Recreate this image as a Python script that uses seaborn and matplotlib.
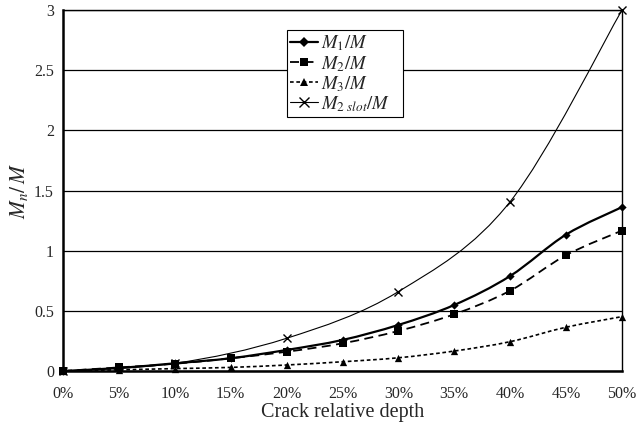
import numpy as np
import matplotlib
matplotlib.use("Agg")
import matplotlib.pyplot as plt
from matplotlib.path import Path
from matplotlib.patches import PathPatch
from matplotlib.lines import Line2D
import seaborn as sns

# Moment ratios versus crack relative depth (%)
depth = [0, 5, 10, 15, 20, 25, 30, 35, 40, 45, 50]
m1 = [0.0, 0.025, 0.064, 0.106, 0.175, 0.258, 0.383, 0.549, 0.790, 1.134, 1.362]
m2 = [0.0, 0.030, 0.060, 0.106, 0.160, 0.230, 0.333, 0.472, 0.668, 0.963, 1.167]
m3 = [0.0, 0.010, 0.020, 0.030, 0.050, 0.077, 0.110, 0.166, 0.244, 0.364, 0.452]
depth_slot = [0, 10, 20, 30, 40, 50]
m2_slot = [0.0, 0.064, 0.272, 0.660, 1.408, 3.0]

x_ticks = [0, 5, 10, 15, 20, 25, 30, 35, 40, 45, 50]
x_tick_labels = ["0%", "5%", "10%", "15%", "20%", "25%", "30%", "35%", "40%", "45%", "50%"]
y_ticks = [0, 0.5, 1, 1.5, 2, 2.5, 3]
y_tick_labels = ["0", "0.5", "1", "1.5", "2", "2.5", "3"]

legend_labels = [r"$M_1/M$", r"$M_2/M$", r"$M_3/M$", r"$M_{2\ slot}/M$"]

sns.set_style("white")
plt.rcParams["font.family"] = ["Liberation Serif", "DejaVu Serif"]
plt.rcParams["mathtext.fontset"] = "stix"

fig = plt.figure(figsize=(6.39, 4.23), dpi=100)
ax = fig.add_axes([0.0986, 0.1229, 0.8748, 0.8534])


def smooth_path(xs, ys):
    """Cubic Bezier path through the points (Catmull-Rom style tangents)."""
    pts = np.column_stack([xs, ys]).astype(float)
    n = len(pts)
    verts = [pts[0]]
    codes = [Path.MOVETO]
    for i in range(n - 1):
        p0 = pts[i - 1] if i > 0 else pts[i]
        p1 = pts[i]
        p2 = pts[i + 1]
        p3 = pts[i + 2] if i + 2 < n else pts[i + 1]
        c1 = p1 + (p2 - p0) / 6.0
        c2 = p2 - (p3 - p1) / 6.0
        verts += [c1, c2, p2]
        codes += [Path.CURVE4] * 3
    return Path(verts, codes)


series = [
    (depth, m1, "D", 4.0, dict(lw=1.6, ls="-")),
    (depth, m2, "s", 5.0, dict(lw=1.3, ls=(0, (5, 3)))),
    (depth, m3, "^", 5.0, dict(lw=1.2, ls=(0, (2.2, 1.6)))),
    (depth_slot, m2_slot, "x", 5.5, dict(lw=0.8, ls="-")),
]

handles = []
for xs, ys, mk, ms, style in series:
    patch = PathPatch(smooth_path(xs, ys), facecolor="none", edgecolor="black",
                      linewidth=style["lw"], linestyle=style["ls"], zorder=3)
    ax.add_patch(patch)
    sns.scatterplot(x=xs, y=ys, marker=mk, s=ms ** 2 * 1.1, color="black",
                    edgecolor="black", linewidth=1.0 if mk == "x" else 0,
                    ax=ax, zorder=4, legend=False, clip_on=False)
    handles.append(Line2D([], [], color="black", lw=style["lw"], ls=style["ls"],
                          marker=mk, markersize=ms + 1, markeredgewidth=1.0 if mk == "x" else 0))

ax.set_xlim(0, 50)
ax.set_ylim(0, 3)
ax.set_xticks(x_ticks)
ax.set_xticklabels(x_tick_labels, fontsize=11.5)
ax.set_yticks(y_ticks)
ax.set_yticklabels(y_tick_labels, fontsize=11.5)
ax.tick_params(axis="y", direction="out", length=4.5, width=0.8, color="black", pad=2)
ax.tick_params(axis="x", direction="out", length=4.5, width=0.8, color="black", pad=6)

ax.yaxis.grid(True, color="black", lw=0.9)
ax.xaxis.grid(False)
ax.set_axisbelow(True)

for side in ["left", "bottom"]:
    ax.spines[side].set_color("black")
    ax.spines[side].set_linewidth(1.8)
ax.spines["right"].set_color("black")
ax.spines["right"].set_linewidth(1.0)
ax.spines["top"].set_color("black")
ax.spines["top"].set_linewidth(1.0)

ax.set_xlabel("Crack relative depth", fontsize=14.5, labelpad=1)
ax.set_ylabel(r"$M_n/\,M$", fontsize=15.5, labelpad=3)

leg = ax.legend(handles, legend_labels, loc="upper left",
                bbox_to_anchor=(0.400, 0.9446, 0.2075, 0.0), mode="expand",
                frameon=True, fancybox=False, shadow=False, fontsize=13.5,
                handlelength=1.5, handletextpad=0.15, labelspacing=0.02,
                borderpad=0.2, borderaxespad=0)
leg.get_frame().set_edgecolor("black")
leg.get_frame().set_linewidth(0.8)
leg.get_frame().set_alpha(1)

fig.savefig("out.png", dpi=100)
